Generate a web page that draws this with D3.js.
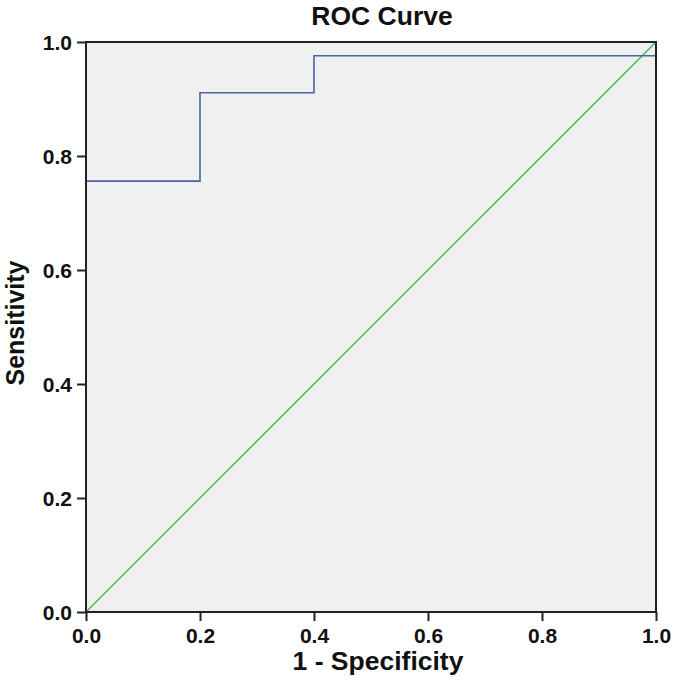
<!DOCTYPE html>
<html><head><meta charset="utf-8">
<script src="https://cdn.jsdelivr.net/npm/d3@7"></script>
<style>body{margin:0;background:#fff}svg{display:block}</style>
</head><body>
<svg id="c" width="675" height="681"></svg>
<script>
const fpr = [0, 0, 0.2, 0.2, 0.4, 0.4, 1.0, 1.0];
const tpr = [0, 0.756, 0.756, 0.911, 0.911, 0.976, 0.976, 1.0];
const refX = [0, 1];
const refY = [0, 1];
const ticks = [0, 0.2, 0.4, 0.6, 0.8, 1.0];

const svg = d3.select("#c");
const m = {l:86, r:19, t:42, b:69};
const W = 675 - m.l - m.r, H = 681 - m.t - m.b;
const x = d3.scaleLinear().domain([0,1]).range([m.l, m.l + W]);
const y = d3.scaleLinear().domain([0,1]).range([m.t + H, m.t]);
const font = "'Liberation Sans', Arial, sans-serif";

svg.append("rect").attr("x", x(0)).attr("y", y(1)).attr("width", W).attr("height", H).attr("fill", "#f0f0f0");

const line = d3.line().x(d => x(d[0])).y(d => y(d[1]));
svg.append("path").datum(refX.map((v,i)=>[v, refY[i]])).attr("d", line).attr("fill","none").attr("stroke","#3cb44a").attr("stroke-width",1.3);
svg.append("path").datum(fpr.map((v,i)=>[v, tpr[i]])).attr("d", line).attr("fill","none").attr("stroke","#4a62a6").attr("stroke-width",1.6);

svg.append("rect").attr("x", x(0)).attr("y", y(1)).attr("width", W).attr("height", H).attr("fill", "none").attr("stroke","#222").attr("stroke-width",2);

const fmt = d3.format(".1f");
const gx = svg.append("g").attr("transform", `translate(0,${y(0)})`).call(d3.axisBottom(x).tickValues(ticks).tickFormat(fmt).tickSize(9).tickSizeOuter(0));
const gy = svg.append("g").attr("transform", `translate(${x(0)},0)`).call(d3.axisLeft(y).tickValues(ticks).tickFormat(fmt).tickSize(9).tickSizeOuter(0));
[gx, gy].forEach(g => {
  g.select(".domain").remove();
  g.selectAll(".tick line").attr("stroke","#222").attr("stroke-width",2);
  g.selectAll("text").attr("font-family", font).attr("font-weight","bold").attr("font-size", 21).attr("fill","#111");
});
gx.selectAll("text").attr("dy", "0.9em");
gy.selectAll("text").attr("dx", "-0.1em").attr("dy", "0.36em");

svg.append("text").attr("x", 382).attr("y", 25).attr("text-anchor","middle").attr("font-family",font).attr("font-weight","bold").attr("font-size",26.5).attr("fill","#111").text("ROC Curve");
svg.append("text").attr("x", 378).attr("y", 670).attr("text-anchor","middle").attr("font-family",font).attr("font-weight","bold").attr("font-size",26.5).attr("fill","#111").text("1 - Specificity");
svg.append("text").attr("transform", `translate(24,323) rotate(-90)`).attr("text-anchor","middle").attr("font-family",font).attr("font-weight","bold").attr("font-size",25).attr("fill","#111").text("Sensitivity");
</script>
</body></html>
